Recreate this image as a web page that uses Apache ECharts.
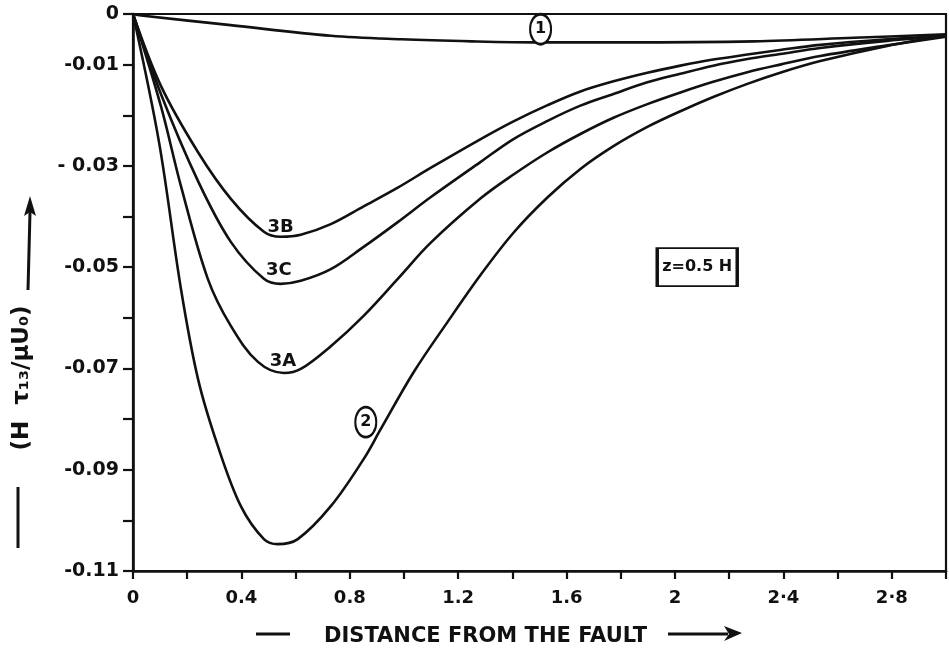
<!DOCTYPE html>
<html><head><meta charset="utf-8">
<script src="https://cdn.jsdelivr.net/npm/echarts@6/dist/echarts.min.js"></script>
<style>html,body{margin:0;padding:0;background:#fff}#c{width:949px;height:652px}</style>
</head><body><div id="c"></div>
<script>
// ---- data ----
const curve1 = [[0,0],[0.03,-0.0003],[0.36,-0.0022],[0.73,-0.0043],[0.99,-0.0050],[1.25,-0.0054],[1.50,-0.0056],[1.80,-0.0056],[2.29,-0.0054],[2.66,-0.0047],[3.0,-0.0040]];
const curve2 = [[0,0],[0.096,-0.0253],[0.177,-0.0543],[0.24,-0.0721],[0.313,-0.0853],[0.398,-0.0972],[0.483,-0.1037],[0.534,-0.1047],[0.608,-0.1037],[0.73,-0.0972],[0.851,-0.0879],[0.914,-0.0820],[1.036,-0.0707],[1.161,-0.0608],[1.283,-0.0515],[1.404,-0.0432],[1.53,-0.0362],[1.651,-0.0306],[1.773,-0.0261],[1.898,-0.0223],[2.02,-0.0192],[2.141,-0.0164],[2.267,-0.0138],[2.388,-0.0116],[2.536,-0.0093],[2.783,-0.0063],[3.0,-0.0043]];
const curve3A = [[0,0],[0.103,-0.0182],[0.177,-0.0340],[0.276,-0.0523],[0.361,-0.0616],[0.461,-0.0687],[0.557,-0.0709],[0.619,-0.0701],[0.73,-0.0656],[0.851,-0.0596],[0.977,-0.0523],[1.098,-0.0452],[1.283,-0.0364],[1.404,-0.0317],[1.53,-0.0273],[1.651,-0.0237],[1.773,-0.0205],[1.898,-0.0178],[2.02,-0.0155],[2.141,-0.0134],[2.267,-0.0115],[2.388,-0.0100],[2.536,-0.0083],[2.783,-0.0062],[3.0,-0.0045]];
const curve3B = [[0,0],[0.103,-0.0142],[0.24,-0.0273],[0.361,-0.0365],[0.483,-0.0430],[0.545,-0.0440],[0.619,-0.0436],[0.73,-0.0415],[0.851,-0.0380],[0.977,-0.0343],[1.098,-0.0304],[1.283,-0.0247],[1.404,-0.0212],[1.53,-0.0180],[1.651,-0.0153],[1.773,-0.0133],[1.898,-0.0116],[2.02,-0.0102],[2.141,-0.0090],[2.267,-0.0080],[2.388,-0.0071],[2.536,-0.0061],[2.783,-0.0050],[3.0,-0.0043]];
const curve3C = [[0,0],[0.103,-0.0158],[0.24,-0.0330],[0.361,-0.0450],[0.483,-0.0523],[0.545,-0.0533],[0.619,-0.0527],[0.73,-0.0504],[0.851,-0.0460],[0.977,-0.0411],[1.098,-0.0362],[1.283,-0.0292],[1.404,-0.0247],[1.53,-0.0211],[1.651,-0.0181],[1.773,-0.0158],[1.898,-0.0135],[2.02,-0.0118],[2.141,-0.0102],[2.267,-0.0089],[2.388,-0.0079],[2.536,-0.0067],[2.783,-0.0053],[3.0,-0.0044]];

const xTickLabels = ['0','','0.4','','0.8','','1.2','','1.6','','2','','2·4','','2·8',''];
const yTickLabels = ['0','-0.01','','- 0.03','','-0.05','','-0.07','','-0.09','','-0.11'];

const curveTags = ['3B','3C','3A'];
const curveTagPos = [[0.545,-0.0421],[0.538,-0.0507],[0.553,-0.0685]];
const circledTags = ['1','2'];
const circledTagPos = [[1.504,-0.0030],[0.859,-0.0806]];
const boxText = 'z=0.5 H';
const boxPos = [2.082,-0.0500];

const FONT = '"DejaVu Sans", "Liberation Sans", sans-serif';

const chart = echarts.init(document.getElementById('c'), null, {renderer:'canvas'});
const lineStyle = {color:'#111', width:2.6};
function curveSeries(name, data){
  return {name, type:'line', data, smooth:0.35, symbol:'none', lineStyle, z:3, animation:false};
}
const labelData = [];
curveTags.forEach((t,i)=>labelData.push({value:curveTagPos[i], name:t, symbolSize:0,
  label:{show:true, position:'inside', formatter:t, fontFamily:FONT, fontWeight:'bold', fontSize:18, color:'#111'}}));
circledTags.forEach((t,i)=>labelData.push({value:circledTagPos[i], name:t, symbol:'circle', symbolSize:[21,30],
  itemStyle:{color:'#fff', borderColor:'#111', borderWidth:2.4, opacity:1},
  label:{show:true, position:'inside', formatter:t, fontFamily:FONT, fontWeight:'bold', fontSize:16, color:'#111'}}));
labelData.push({value:boxPos, name:'box', symbol:'rect', symbolSize:[80,38],
  itemStyle:{color:'#fff', borderColor:'#111', borderWidth:2.4, opacity:1},
  label:{show:true, position:'inside', formatter:boxText, fontFamily:FONT, fontWeight:'bold', fontSize:16, color:'#111'}});

chart.setOption({
  animation:false,
  backgroundColor:'#fff',
  grid:{left:133, right:3, top:14, bottom:80, show:true, borderColor:'#111', borderWidth:2.2, containLabel:false},
  xAxis:{type:'value', min:0, max:3, interval:0.2,
    axisLine:{show:true, onZero:false, lineStyle:{color:'#111', width:2.6}},
    axisTick:{show:true, length:8, lineStyle:{color:'#111', width:2.2}},
    splitLine:{show:false},
    axisLabel:{margin:18, color:'#111', fontFamily:FONT, fontWeight:'bold', fontSize:18,
      formatter:v=>{const k=Math.round(v/0.2); return xTickLabels[k]||'';}},
    name:'DISTANCE FROM THE FAULT', nameLocation:'middle', nameGap:55,
    nameTextStyle:{color:'#111', fontFamily:FONT, fontWeight:'bold', fontSize:21, padding:[0,108,0,0]}
  },
  yAxis:{type:'value', min:-0.11, max:0, interval:0.01,
    axisLine:{show:true, lineStyle:{color:'#111', width:2.6}},
    axisTick:{show:true, length:10, lineStyle:{color:'#111', width:2.2}},
    splitLine:{show:false},
    axisLabel:{margin:14, color:'#111', fontFamily:FONT, fontWeight:'bold', fontSize:19,
      formatter:v=>{const k=Math.round(-v*100); return yTickLabels[k]||'';}}
  },
  series:[
    curveSeries('1', curve1),
    curveSeries('2', curve2),
    curveSeries('3A', curve3A),
    curveSeries('3B', curve3B),
    curveSeries('3C', curve3C),
    {name:'labels', type:'scatter', data:labelData, z:5, silent:true, animation:false,
     itemStyle:{opacity:1}, emphasis:{disabled:true}}
  ],
  graphic:[
    // x title dash and arrow
    {type:'line', shape:{x1:256, y1:634, x2:290, y2:634}, style:{stroke:'#111', lineWidth:3}},
    {type:'line', shape:{x1:668, y1:634, x2:728, y2:634}, style:{stroke:'#111', lineWidth:3}},
    {type:'polygon', shape:{points:[[742,633],[724,626],[729,634],[724,641]]}, style:{fill:'#111'}},
    // y title
    {type:'text', x:22, y:378, rotation:Math.PI/2,
      style:{text:'(H  τ₁₃/μU₀)', fill:'#111', font:'bold 23px '+FONT, align:'center', verticalAlign:'middle'}},
    {type:'line', shape:{x1:18, y1:487, x2:18, y2:548}, style:{stroke:'#111', lineWidth:3}},
    {type:'line', shape:{x1:28, y1:290, x2:30, y2:212}, style:{stroke:'#111', lineWidth:3}},
    {type:'polygon', shape:{points:[[30,196],[24,216],[30,212],[36,216]]}, style:{fill:'#111'}}
  ]
});
</script></body></html>
